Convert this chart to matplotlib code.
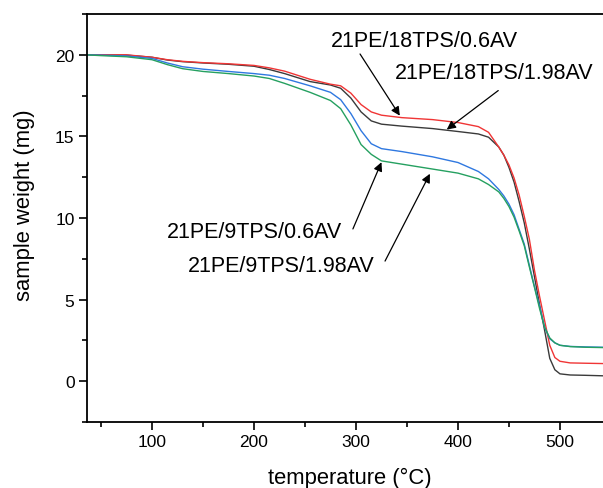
import matplotlib
matplotlib.use("Agg")
import matplotlib.pyplot as plt
from matplotlib.ticker import MultipleLocator

plt.rcParams['font.family'] = ['Liberation Sans', 'DejaVu Sans']

# TGA curves
temperature = [35, 50, 75, 100, 115, 130, 150, 175, 200, 215, 230, 255, 275, 285,
               295, 305, 315, 325, 345, 375, 400, 420, 430, 440, 445, 450, 455,
               460, 465, 470, 475, 480, 485, 490, 495, 500, 510, 525, 542]

w_18tps_06av = [20.0, 20.0, 20.0, 19.85, 19.7, 19.6, 19.52, 19.45, 19.35, 19.2, 19.0,
                18.5, 18.2, 18.1, 17.65, 16.95, 16.5, 16.3, 16.15, 16.03, 15.85,
                15.6, 15.25, 14.35, 13.85, 13.25, 12.45, 11.4, 10.1, 8.7, 6.8, 5.2,
                3.7, 2.2, 1.45, 1.22, 1.12, 1.1, 1.08]
w_18tps_198av = [20.0, 20.0, 19.98, 19.85, 19.68, 19.58, 19.5, 19.42, 19.3, 19.1, 18.85,
                 18.36, 18.15, 17.95, 17.35, 16.5, 15.95, 15.75, 15.63, 15.48, 15.3,
                 15.15, 14.95, 14.35, 13.85, 13.1, 12.2, 11.0, 9.7, 8.1, 6.4, 4.7,
                 3.1, 1.4, 0.7, 0.45, 0.38, 0.36, 0.33]
w_9tps_06av = [20.0, 19.98, 19.93, 19.78, 19.5, 19.27, 19.12, 18.98, 18.85, 18.75, 18.55,
               18.1, 17.7, 17.25, 16.4, 15.35, 14.55, 14.25, 14.07, 13.75, 13.4,
               12.85, 12.4, 11.75, 11.35, 10.85, 10.2, 9.3, 8.4, 7.1, 5.8, 4.6,
               3.3, 2.6, 2.35, 2.2, 2.13, 2.1, 2.08]
w_9tps_198av = [20.0, 19.95, 19.88, 19.7, 19.4, 19.15, 18.98, 18.85, 18.7, 18.55, 18.25,
                17.7, 17.2, 16.7, 15.7, 14.5, 13.9, 13.5, 13.3, 13.0, 12.75,
                12.4, 12.05, 11.6, 11.2, 10.7, 10.05, 9.2, 8.3, 7.0, 5.75, 4.45,
                3.3, 2.65, 2.35, 2.2, 2.12, 2.08, 2.06]

fig = plt.figure(figsize=(6.03, 4.89), dpi=100)
ax = fig.add_axes([0.1443, 0.135, 0.8557, 0.8343])

ax.plot(temperature, w_18tps_198av, color='#3a3a3a', lw=1.0)
ax.plot(temperature, w_18tps_06av, color='#f03535', lw=1.0)
ax.plot(temperature, w_9tps_06av, color='#2f78e0', lw=1.0)
ax.plot(temperature, w_9tps_198av, color='#25a060', lw=1.0)

ax.set_xlim(36.3, 542.2)
ax.set_ylim(-2.5, 22.5)
ax.xaxis.set_major_locator(MultipleLocator(100))
ax.xaxis.set_minor_locator(MultipleLocator(50))
ax.yaxis.set_major_locator(MultipleLocator(5))
ax.yaxis.set_minor_locator(MultipleLocator(2.5))
ax.tick_params(which='major', direction='out', length=6, width=1.2, labelsize=12.5, pad=3)
ax.tick_params(which='minor', direction='out', length=3.5, width=1.2)
ax.spines['right'].set_visible(False)
for s in ['left', 'bottom', 'top']:
    ax.spines[s].set_linewidth(1.3)

ax.set_xlabel('temperature (°C)', fontsize=15.8)
ax.set_ylabel('sample weight (mg)', fontsize=15.8)
ax.xaxis.set_label_coords(0.51, -0.11)
ax.yaxis.set_label_coords(-0.101, 0.534)

# labels and arrows
labels = ['21PE/18TPS/0.6AV', '21PE/18TPS/1.98AV', '21PE/9TPS/0.6AV', '21PE/9TPS/1.98AV']
label_pos = [(367.6, 20.87), (435.3, 18.89), (201, 9.15), (226.4, 7.08)]
arrow_tail = [(304, 20.05), (439.5, 17.81), (297, 9.33), (328.5, 7.36)]
arrow_head = [(343, 16.27), (389, 15.42), (325, 13.42), (372.5, 12.71)]

for lab, pos, tail, head in zip(labels, label_pos, arrow_tail, arrow_head):
    ax.text(pos[0], pos[1], lab, fontsize=15.5, ha='center', va='center')
    ax.annotate('', xy=head, xytext=tail,
                arrowprops=dict(arrowstyle='-|>', color='black', lw=0.9,
                                mutation_scale=13, shrinkA=0, shrinkB=0))

fig.savefig('out.png', dpi=100)
